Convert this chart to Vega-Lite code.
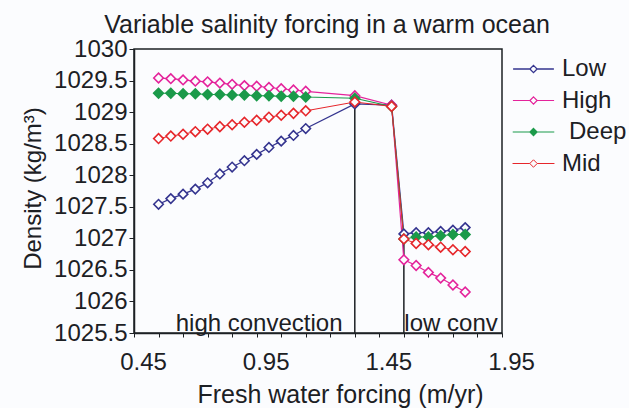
{
  "$schema": "https://vega.github.io/schema/vega-lite/v6.json",
  "width": 368,
  "height": 284,
  "autosize": {"type": "none"},
  "padding": {"left": 134, "top": 49, "right": 127, "bottom": 75},
  "background": "#fbfcfe",
  "config": {
    "font": "Liberation Sans",
    "view": {"stroke": "#1c2024", "strokeWidth": 1.5},
    "axis": {
      "labelFontSize": 24, "titleFontSize": 24, "titleFontWeight": "normal",
      "labelColor": "#1c2024", "titleColor": "#1c2024",
      "domainColor": "#1c2024", "tickColor": "#1c2024", "domainWidth": 1.5,
      "grid": false, "labelOverlap": false, "labelFlush": false, "labelBound": false
    },
    "legend": {"labelFontSize": 24, "labelColor": "#1c2024"}
  },
  "title": {
    "text": "Variable salinity forcing in a warm ocean",
    "fontSize": 25, "fontWeight": "normal", "color": "#1c2024",
    "anchor": "middle", "baseline": "alphabetic", "offset": 19, "dx": 9, "dy": 40
  },
  "datasets": {
    "density": [
      {"forcing": 0.55, "density": 1027.54, "series": "Low"},
      {"forcing": 0.60, "density": 1027.63, "series": "Low"},
      {"forcing": 0.65, "density": 1027.70, "series": "Low"},
      {"forcing": 0.70, "density": 1027.78, "series": "Low"},
      {"forcing": 0.75, "density": 1027.88, "series": "Low"},
      {"forcing": 0.80, "density": 1028.02, "series": "Low"},
      {"forcing": 0.85, "density": 1028.13, "series": "Low"},
      {"forcing": 0.90, "density": 1028.23, "series": "Low"},
      {"forcing": 0.95, "density": 1028.33, "series": "Low"},
      {"forcing": 1.00, "density": 1028.44, "series": "Low"},
      {"forcing": 1.05, "density": 1028.54, "series": "Low"},
      {"forcing": 1.10, "density": 1028.63, "series": "Low"},
      {"forcing": 1.15, "density": 1028.74, "series": "Low"},
      {"forcing": 1.35, "density": 1029.13, "series": "Low"},
      {"forcing": 1.50, "density": 1029.11, "series": "Low"},
      {"forcing": 1.55, "density": 1027.07, "series": "Low"},
      {"forcing": 1.60, "density": 1027.09, "series": "Low"},
      {"forcing": 1.65, "density": 1027.09, "series": "Low"},
      {"forcing": 1.70, "density": 1027.11, "series": "Low"},
      {"forcing": 1.75, "density": 1027.13, "series": "Low"},
      {"forcing": 1.80, "density": 1027.17, "series": "Low"},

      {"forcing": 0.55, "density": 1029.54, "series": "High"},
      {"forcing": 0.60, "density": 1029.53, "series": "High"},
      {"forcing": 0.65, "density": 1029.51, "series": "High"},
      {"forcing": 0.70, "density": 1029.49, "series": "High"},
      {"forcing": 0.75, "density": 1029.48, "series": "High"},
      {"forcing": 0.80, "density": 1029.46, "series": "High"},
      {"forcing": 0.85, "density": 1029.44, "series": "High"},
      {"forcing": 0.90, "density": 1029.42, "series": "High"},
      {"forcing": 0.95, "density": 1029.41, "series": "High"},
      {"forcing": 1.00, "density": 1029.39, "series": "High"},
      {"forcing": 1.05, "density": 1029.37, "series": "High"},
      {"forcing": 1.10, "density": 1029.35, "series": "High"},
      {"forcing": 1.15, "density": 1029.33, "series": "High"},
      {"forcing": 1.35, "density": 1029.26, "series": "High"},
      {"forcing": 1.50, "density": 1029.11, "series": "High"},
      {"forcing": 1.55, "density": 1026.66, "series": "High"},
      {"forcing": 1.60, "density": 1026.57, "series": "High"},
      {"forcing": 1.65, "density": 1026.46, "series": "High"},
      {"forcing": 1.70, "density": 1026.37, "series": "High"},
      {"forcing": 1.75, "density": 1026.26, "series": "High"},
      {"forcing": 1.80, "density": 1026.15, "series": "High"},

      {"forcing": 0.55, "density": 1029.30, "series": "Deep"},
      {"forcing": 0.60, "density": 1029.30, "series": "Deep"},
      {"forcing": 0.65, "density": 1029.29, "series": "Deep"},
      {"forcing": 0.70, "density": 1029.29, "series": "Deep"},
      {"forcing": 0.75, "density": 1029.28, "series": "Deep"},
      {"forcing": 0.80, "density": 1029.28, "series": "Deep"},
      {"forcing": 0.85, "density": 1029.27, "series": "Deep"},
      {"forcing": 0.90, "density": 1029.27, "series": "Deep"},
      {"forcing": 0.95, "density": 1029.26, "series": "Deep"},
      {"forcing": 1.00, "density": 1029.26, "series": "Deep"},
      {"forcing": 1.05, "density": 1029.25, "series": "Deep"},
      {"forcing": 1.10, "density": 1029.25, "series": "Deep"},
      {"forcing": 1.15, "density": 1029.24, "series": "Deep"},
      {"forcing": 1.35, "density": 1029.22, "series": "Deep"},
      {"forcing": 1.50, "density": 1029.09, "series": "Deep"},
      {"forcing": 1.55, "density": 1026.99, "series": "Deep"},
      {"forcing": 1.60, "density": 1027.02, "series": "Deep"},
      {"forcing": 1.65, "density": 1027.02, "series": "Deep"},
      {"forcing": 1.70, "density": 1027.04, "series": "Deep"},
      {"forcing": 1.75, "density": 1027.06, "series": "Deep"},
      {"forcing": 1.80, "density": 1027.06, "series": "Deep"},

      {"forcing": 0.55, "density": 1028.58, "series": "Mid"},
      {"forcing": 0.60, "density": 1028.62, "series": "Mid"},
      {"forcing": 0.65, "density": 1028.65, "series": "Mid"},
      {"forcing": 0.70, "density": 1028.69, "series": "Mid"},
      {"forcing": 0.75, "density": 1028.73, "series": "Mid"},
      {"forcing": 0.80, "density": 1028.77, "series": "Mid"},
      {"forcing": 0.85, "density": 1028.80, "series": "Mid"},
      {"forcing": 0.90, "density": 1028.84, "series": "Mid"},
      {"forcing": 0.95, "density": 1028.87, "series": "Mid"},
      {"forcing": 1.00, "density": 1028.92, "series": "Mid"},
      {"forcing": 1.05, "density": 1028.95, "series": "Mid"},
      {"forcing": 1.10, "density": 1028.98, "series": "Mid"},
      {"forcing": 1.15, "density": 1029.02, "series": "Mid"},
      {"forcing": 1.35, "density": 1029.16, "series": "Mid"},
      {"forcing": 1.50, "density": 1029.09, "series": "Mid"},
      {"forcing": 1.55, "density": 1026.99, "series": "Mid"},
      {"forcing": 1.60, "density": 1026.92, "series": "Mid"},
      {"forcing": 1.65, "density": 1026.90, "series": "Mid"},
      {"forcing": 1.70, "density": 1026.86, "series": "Mid"},
      {"forcing": 1.75, "density": 1026.82, "series": "Mid"},
      {"forcing": 1.80, "density": 1026.79, "series": "Mid"}
    ],
    "regimes": [
      {"forcing": 1.35, "density": 1025.5, "top": 1029.13},
      {"forcing": 1.55, "density": 1025.5, "top": 1027.05}
    ],
    "regimeLabels": [
      {"forcing": 0.62, "density": 1025.53, "label": "high convection"},
      {"forcing": 1.552, "density": 1025.53, "label": "low conv"}
    ]
  },
  "encoding": {
    "x": {
      "field": "forcing", "type": "quantitative",
      "scale": {"domain": [0.45, 1.95], "nice": false, "zero": false},
      "axis": {
        "title": "Fresh water forcing (m/yr)", "titleFontSize": 25,
        "values": [0.45, 0.55, 0.65, 0.75, 0.85, 0.95, 1.05, 1.15, 1.25, 1.35, 1.45, 1.55, 1.65, 1.75, 1.85, 1.95],
        "labelExpr": "indexof(['0.45','0.95','1.45','1.95'], format(datum.value, '.2f')) >= 0 ? format(datum.value, '.2f') : ''",
        "labelOverlap": false, "labelFlush": false, "labelBound": false,
        "labelOffset": 9, "labelPadding": 13, "tickSize": 4,
        "titleX": 206, "titlePadding": 8
      }
    },
    "y": {
      "field": "density", "type": "quantitative",
      "scale": {"domain": [1025.5, 1030], "nice": false, "zero": false},
      "axis": {
        "title": "Density (kg/m³)",
        "values": [1025.5, 1026, 1026.5, 1027, 1027.5, 1028, 1028.5, 1029, 1029.5, 1030],
        "format": "~g", "labelOverlap": false, "labelFlush": false, "labelBound": false,
        "tickSize": 5, "labelPadding": 2,
        "titleX": -94, "titleY": 139, "titleBaseline": "alphabetic", "titleAlign": "center"
      }
    }
  },
  "layer": [
    {
      "data": {"name": "regimes"},
      "mark": {"type": "rule", "color": "#1c2024", "strokeWidth": 1.5},
      "encoding": {
        "y2": {"field": "top"}
      }
    },
    {
      "data": {"name": "density"},
      "mark": {"type": "line"},
      "encoding": {
        "stroke": {
          "field": "series", "type": "nominal",
          "scale": {"domain": ["Low", "High", "Deep", "Mid"], "range": ["#34348f", "#e4239b", "#1b9a4a", "#e6262b"]},
          "legend": {
            "title": null, "orient": "none", "legendX": 387.5, "legendY": 8, "padding": 0,
            "symbolType": "M-4.3,0L-0.76,0M0.76,0L4.3,0M0,-0.76L0.76,0L0,0.76L-0.76,0Z",
            "symbolSize": 400, "symbolStrokeWidth": 1.5, "labelOffset": 16.5, "rowPadding": 7.5,
            "encode": {
              "symbols": {"update": {
                "fill": {"signal": "datum.value === 'Deep' ? '#1b9a4a' : '#fbfcfe'"}
              }},
              "labels": {"update": {
                "dx": {"signal": "datum.value === 'Deep' ? 7 : 0"}
              }}
            }
          }
        },
        "strokeWidth": {
          "field": "series", "type": "nominal",
          "scale": {"domain": ["Low", "High", "Deep", "Mid"], "range": [1.3, 1, 2, 1.6]},
          "legend": null
        },
        "order": {"field": "forcing", "type": "quantitative"}
      }
    },
    {
      "data": {"name": "density"},
      "mark": {"type": "point", "shape": "diamond", "strokeWidth": 1.6, "opacity": 1},
      "encoding": {
        "stroke": {"field": "series", "type": "nominal"},
        "fill": {
          "condition": {"test": "datum.series === 'Deep'", "value": "#1b9a4a"},
          "value": "#fbfcfe"
        },
        "size": {
          "field": "series", "type": "nominal",
          "scale": {"domain": ["Low", "High", "Deep", "Mid"], "range": [90, 95, 130, 100]},
          "legend": null
        }
      }
    },
    {
      "data": {"name": "regimeLabels"},
      "mark": {"type": "text", "fontSize": 24, "align": "left", "baseline": "alphabetic", "color": "#1c2024"},
      "encoding": {
        "text": {"field": "label", "type": "nominal"}
      }
    }
  ]
}
